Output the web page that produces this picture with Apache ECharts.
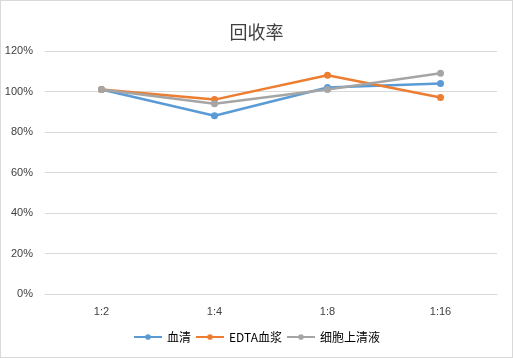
<!DOCTYPE html>
<html><head><meta charset="utf-8">
<script src="https://cdn.jsdelivr.net/npm/echarts@6/dist/echarts.min.js"></script>
<style>html,body{margin:0;padding:0;background:#fff}#c{width:511px;height:356px;border:1px solid #d9d9d9}</style>
</head><body><div id="c"></div>
<script>
const categories = ['1:2','1:4','1:8','1:16'];
const serum = [101, 88, 102, 104];
const edta = [101, 96, 108, 97];
const supernatant = [101, 94, 101, 109];
const seriesNames = ['血清','EDTA血浆','细胞上清液'];
const colors = ['#5B9BD5','#ED7D31','#A5A5A5'];
const chart = echarts.init(document.getElementById('c'));
const mk = (name, data, color) => ({
  name, type:'line', data, color, symbol:'circle', symbolSize:7,
  lineStyle:{width:2.5,color}, itemStyle:{color}
});
chart.setOption({
  animation:false,
  title:{text:'回收率',left:'center',top:17,textStyle:{fontSize:18,fontWeight:'normal',color:'#404040',fontFamily:'Noto Sans CJK SC'}},
  legend:{bottom:9,itemGap:4,itemWidth:28,itemHeight:7,textStyle:{fontSize:12,color:'#000',fontFamily:'Noto Sans CJK SC'},
    data:seriesNames},
  grid:{left:44,right:15,top:50,bottom:63},
  xAxis:{type:'category',data:categories,boundaryGap:true,
    axisLine:{lineStyle:{color:'#d9d9d9'}},axisTick:{show:false},
    axisLabel:{color:'#404040',fontSize:11,margin:12}},
  yAxis:{type:'value',min:0,max:120,interval:20,
    axisLabel:{formatter:'{value}%',color:'#404040',fontSize:11,margin:12},
    splitLine:{lineStyle:{color:'#d9d9d9'}},axisLine:{show:false},axisTick:{show:false}},
  series:[mk(seriesNames[0],serum,colors[0]),mk(seriesNames[1],edta,colors[1]),mk(seriesNames[2],supernatant,colors[2])]
});
</script></body></html>
